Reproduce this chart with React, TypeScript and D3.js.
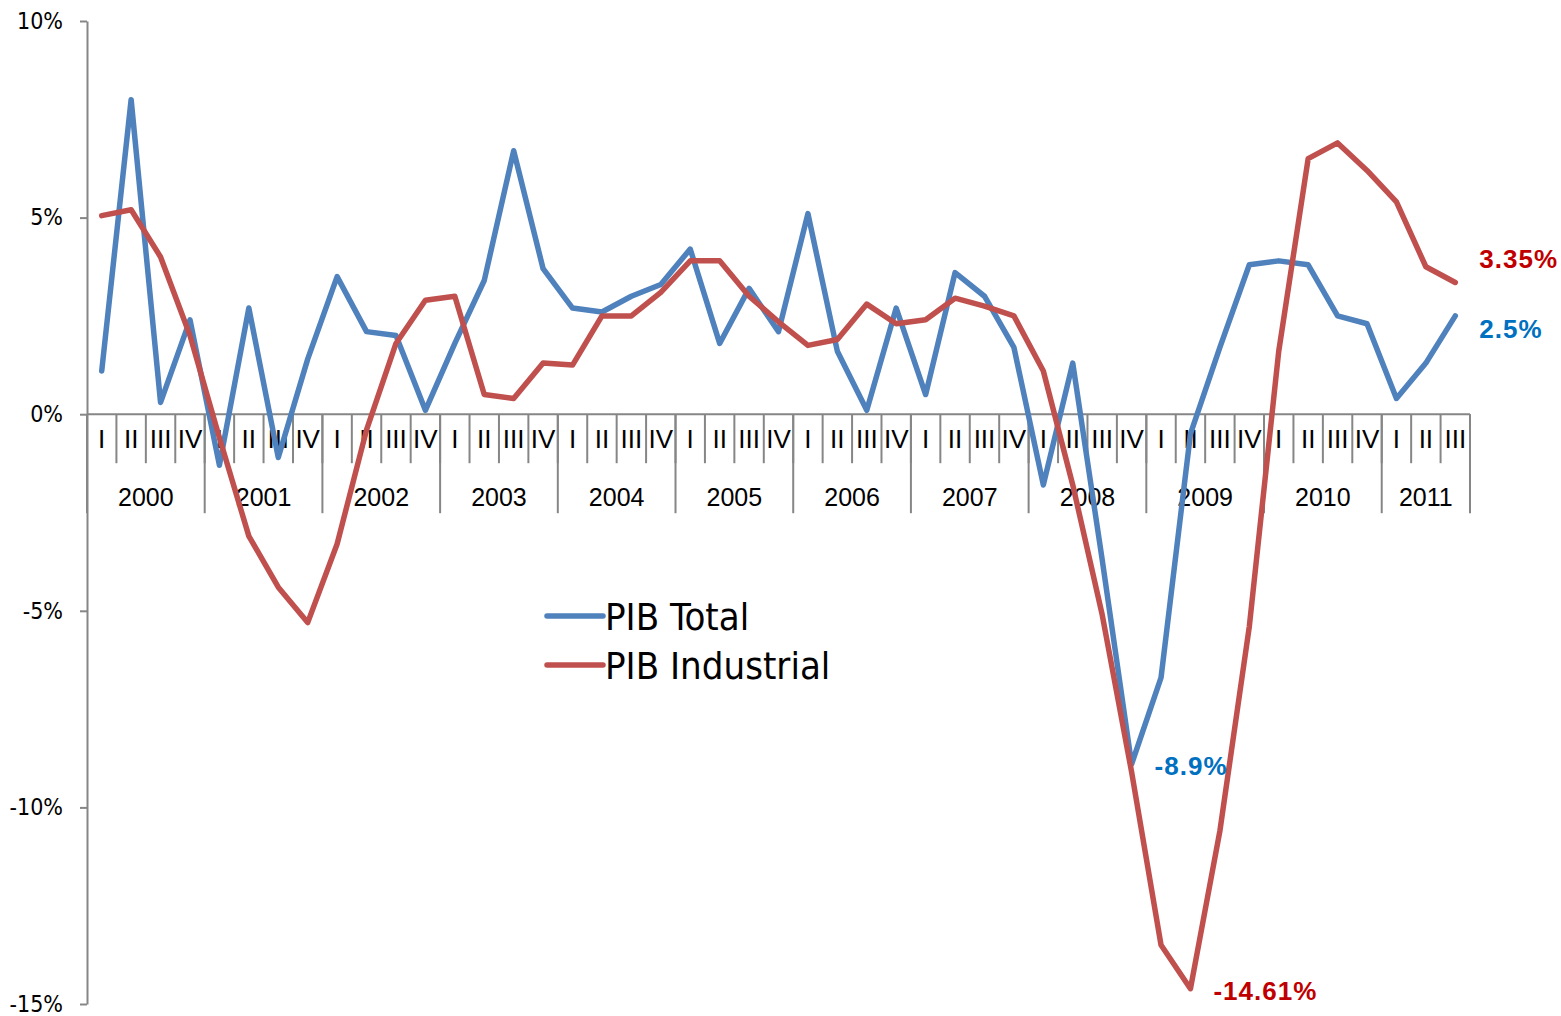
import React, { useRef, useEffect } from "react";
import * as d3 from "d3";

// quarterly series, 2000 I .. 2011 III
const years = ["2000", "2001", "2002", "2003", "2004", "2005", "2006", "2007", "2008", "2009", "2010", "2011"];
const quarterNames = ["I", "II", "III", "IV"];
const quartersPerYear = [4, 4, 4, 4, 4, 4, 4, 4, 4, 4, 4, 3];

const pibTotal = [
  1.1, 8.0, 0.3, 2.4,
  -1.3, 2.7, -1.1, 1.4,
  3.5, 2.1, 2.0, 0.1,
  1.8, 3.4, 6.7, 3.7,
  2.7, 2.6, 3.0, 3.3,
  4.2, 1.8, 3.2, 2.1,
  5.1, 1.6, 0.1, 2.7,
  0.5, 3.6, 3.0, 1.7,
  -1.8, 1.3, -3.7, -8.9,
  -6.7, -0.5, 1.7, 3.8,
  3.9, 3.8, 2.5, 2.3,
  0.4, 1.3, 2.5,
];

const pibIndustrial = [
  5.05, 5.2, 4.0, 2.0,
  -0.6, -3.1, -4.4, -5.3,
  -3.3, -0.4, 1.8, 2.9,
  3.0, 0.5, 0.4, 1.3,
  1.25, 2.5, 2.5, 3.1,
  3.9, 3.9, 3.0, 2.35,
  1.75, 1.9, 2.8, 2.3,
  2.4, 2.95, 2.75, 2.5,
  1.1, -1.8, -5.1, -9.1,
  -13.5, -14.61, -10.6, -5.4,
  1.6, 6.5, 6.9, 6.2,
  5.4, 3.75, 3.35,
];

const yTicks = [-15, -10, -5, 0, 5, 10];

// annotated points
const callouts = [
  { series: "total", index: 35, text: "-8.9%", dx: 23, dy: 1 },
  { series: "industrial", index: 37, text: "-14.61%", dx: 23, dy: 2 },
  { series: "industrial", index: 46, text: "3.35%", dx: 24, dy: -24 },
  { series: "total", index: 46, text: "2.5%", dx: 24, dy: 13 },
];

const BLUE = "#4F81BD";
const RED = "#C0504D";
const AXIS = "#868686";

const App = () => {
  const ref = useRef(null);

  useEffect(() => {
    if (!ref.current) return;
    const width = 1561;
    const height = 1016;
    const margin = { top: 21, right: 91, bottom: 12, left: 87 };

    const svg = d3.select(ref.current);
    svg.selectAll("*").remove();
    svg.attr("width", width).attr("height", height);

    // category keys
    const cats = [];
    years.forEach((yr, yi) => {
      for (let q = 0; q < quartersPerYear[yi]; q++) {
        cats.push({ key: `${yr}-${quarterNames[q]}`, year: yr, q: quarterNames[q] });
      }
    });

    const x = d3
      .scaleBand()
      .domain(cats.map((c) => c.key))
      .range([margin.left, width - margin.right])
      .padding(0);

    const y = d3
      .scaleLinear()
      .domain([-15, 10])
      .range([height - margin.bottom, margin.top]);

    const cx = (i) => x(cats[i].key) + x.bandwidth() / 2;

    // Y axis
    const yAxis = svg
      .append("g")
      .attr("transform", `translate(${margin.left},0)`)
      .call(
        d3
          .axisLeft(y)
          .tickValues(yTicks)
          .tickSize(7)
          .tickSizeOuter(0)
          .tickPadding(17)
          .tickFormat((d) => `${d}%`)
      );
    yAxis.select(".domain").attr("stroke", AXIS).attr("stroke-width", 2);
    yAxis.selectAll(".tick line").attr("stroke", AXIS).attr("stroke-width", 2);
    yAxis
      .selectAll(".tick text")
      .attr("fill", "#000")
      .attr("font-family", "'Liberation Sans Narrow', 'DejaVu Sans Condensed', sans-serif")
      .attr("font-size", 23)
      .attr("dy", "0.32em");

    // X axis at zero with two-level categories
    const y0 = y(0);
    const xAxis = svg.append("g");
    const x0 = margin.left;
    const x1 = width - margin.right;
    xAxis
      .append("line")
      .attr("x1", x0)
      .attr("x2", x1)
      .attr("y1", y0)
      .attr("y2", y0)
      .attr("stroke", AXIS)
      .attr("stroke-width", 2);

    // quarter boundaries
    const bounds = cats.map((c) => x(c.key)).concat([x1]);
    xAxis
      .selectAll(".qtick")
      .data(bounds)
      .enter()
      .append("line")
      .attr("x1", (d) => d)
      .attr("x2", (d) => d)
      .attr("y1", y0)
      .attr("y2", y0 + 49)
      .attr("stroke", AXIS)
      .attr("stroke-width", 2);

    // year boundaries
    const yearStarts = [];
    let acc = 0;
    years.forEach((yr, yi) => {
      yearStarts.push({ yr, start: acc, n: quartersPerYear[yi] });
      acc += quartersPerYear[yi];
    });
    const yearBounds = yearStarts.map((ys) => x(cats[ys.start].key)).concat([x1]);
    xAxis
      .selectAll(".ytick")
      .data(yearBounds)
      .enter()
      .append("line")
      .attr("x1", (d) => d)
      .attr("x2", (d) => d)
      .attr("y1", y0)
      .attr("y2", y0 + 99)
      .attr("stroke", AXIS)
      .attr("stroke-width", 2);

    xAxis
      .selectAll(".qlabel")
      .data(cats)
      .enter()
      .append("text")
      .attr("x", (d, i) => cx(i))
      .attr("y", y0 + 34)
      .attr("text-anchor", "middle")
      .attr("font-family", "'Liberation Sans', Arial, sans-serif")
      .attr("font-size", 26)
      .attr("fill", "#000")
      .text((d) => d.q);

    xAxis
      .selectAll(".ylabel")
      .data(yearStarts)
      .enter()
      .append("text")
      .attr("x", (d) => (x(cats[d.start].key) + x(cats[d.start + d.n - 1].key) + x.bandwidth()) / 2)
      .attr("y", y0 + 92)
      .attr("text-anchor", "middle")
      .attr("font-family", "'Liberation Sans', Arial, sans-serif")
      .attr("font-size", 25)
      .attr("fill", "#000")
      .text((d) => d.yr);

    // series lines
    const line = d3
      .line()
      .x((d, i) => cx(i))
      .y((d) => y(d));

    svg
      .append("path")
      .datum(pibTotal)
      .attr("fill", "none")
      .attr("stroke", BLUE)
      .attr("stroke-width", 5.5)
      .attr("stroke-linejoin", "round")
      .attr("stroke-linecap", "round")
      .attr("d", line);

    svg
      .append("path")
      .datum(pibIndustrial)
      .attr("fill", "none")
      .attr("stroke", RED)
      .attr("stroke-width", 5.5)
      .attr("stroke-linejoin", "round")
      .attr("stroke-linecap", "round")
      .attr("d", line);

    // value callouts
    svg
      .selectAll(".callout")
      .data(callouts)
      .enter()
      .append("text")
      .attr("x", (d) => cx(d.index) + d.dx)
      .attr("y", (d) => y(d.series === "total" ? pibTotal[d.index] : pibIndustrial[d.index]) + d.dy)
      .attr("dy", "0.36em")
      .attr("font-family", "'Liberation Sans', Arial, sans-serif")
      .attr("font-weight", "bold")
      .attr("font-size", 26)
      .attr("letter-spacing", 1)
      .attr("fill", (d) => (d.series === "total" ? "#0070C0" : "#C00000"))
      .text((d) => d.text);

    // legend
    const legendItems = [
      { name: "PIB Total", color: BLUE },
      { name: "PIB Industrial", color: RED },
    ];
    const legend = svg.append("g").attr("transform", "translate(547,616)");
    const li = legend
      .selectAll(".item")
      .data(legendItems)
      .enter()
      .append("g")
      .attr("transform", (d, i) => `translate(0,${i * 49})`);
    li.append("line")
      .attr("x1", 0)
      .attr("x2", 56)
      .attr("stroke", (d) => d.color)
      .attr("stroke-width", 5.5)
      .attr("stroke-linecap", "round");
    li.append("text")
      .attr("x", 58)
      .attr("dy", "0.36em")
      .attr("font-family", "'Liberation Sans Narrow', 'DejaVu Sans Condensed', sans-serif")
      .attr("font-size", 38)
      .attr("fill", "#000")
      .text((d) => d.name);
  }, []);

  return (
    <svg
      ref={ref}
      style={{ position: "absolute", left: 0, top: 0, display: "block", background: "#fff" }}
    ></svg>
  );
};

export default App;
